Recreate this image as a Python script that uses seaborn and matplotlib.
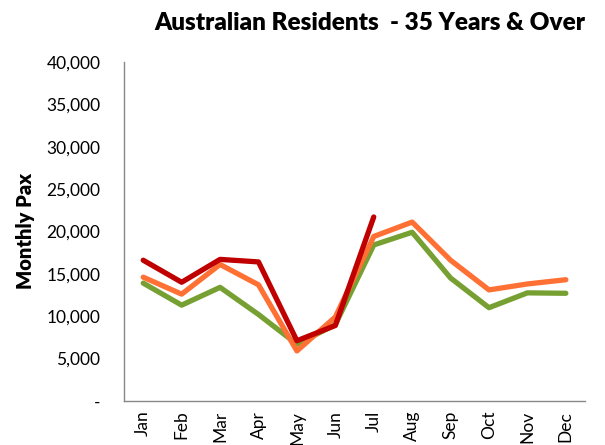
import numpy as np
import pandas as pd
import matplotlib
matplotlib.use("Agg")
import matplotlib.pyplot as plt
import seaborn as sns
from matplotlib.ticker import FuncFormatter, FixedLocator

# Datos
months = ['Jan', 'Feb', 'Mar', 'Apr', 'May', 'Jun', 'Jul', 'Aug', 'Sep', 'Oct', 'Nov', 'Dec']
green_vals = [13900, 11300, 13400, 10200, 6700, 9000, 18400, 19900, 14500, 11000, 12750, 12700]
orange_vals = [14600, 12600, 16100, 13700, 5900, 9900, 19400, 21100, 16600, 13100, 13800, 14300]
red_vals = [16600, 14000, 16700, 16400, 7100, 8900, 21700]
series_names = ['A', 'B', 'C']
series_colors = ['#77A033', '#FF7034', '#C00000']

sns.set_style("white")
plt.rcParams['font.family'] = ['Lato', 'DejaVu Sans']

# Tabla larga para seaborn
rows = []
for name, vals in zip(series_names, [green_vals, orange_vals, red_vals]):
    for i, v in enumerate(vals):
        rows.append({'series': name, 'x': i, 'value': v})
data = pd.DataFrame(rows)

fig = plt.figure(figsize=(6.05, 4.45), dpi=100)
ax = fig.add_axes([0.205, 0.099, 0.762, 0.762])

sns.lineplot(data=data, x='x', y='value', hue='series', hue_order=series_names,
             palette=series_colors, linewidth=3.8, legend=False, ax=ax)

ax.set_xlim(-0.5, 11.5)
ax.set_ylim(0, 40000)
ax.set_yticks(np.arange(0, 40001, 5000))
ax.yaxis.set_major_formatter(FuncFormatter(lambda v, p: '-' if v == 0 else f'{int(v):,}'))

ax.set_xticks(range(len(months)))
ax.set_xticklabels(months, rotation=90, fontsize=12.5)
ax.xaxis.set_minor_locator(FixedLocator(np.arange(-0.5, 12, 1)))
ax.tick_params(axis='x', which='major', length=0, pad=7, labelcolor='black')
ax.tick_params(axis='x', which='minor', length=5, width=1, color='#888888', direction='out')
ax.tick_params(axis='y', length=5, width=1, color='#888888', direction='out',
               labelsize=12.5, labelcolor='black', pad=12)

for s in ['top', 'right']:
    ax.spines[s].set_visible(False)
for s in ['left', 'bottom']:
    ax.spines[s].set_color('#888888')
    ax.spines[s].set_linewidth(1)

ax.set_xlabel('')
ax.set_ylabel('Monthly Pax', fontsize=14.5, fontweight='heavy', color='black', labelpad=8)
fig.text(0.612, 0.948, 'Australian Residents  - 35 Years & Over', ha='center', va='center',
         fontsize=17.5, fontweight='heavy', color='black')

fig.savefig('out.png', dpi=100)
